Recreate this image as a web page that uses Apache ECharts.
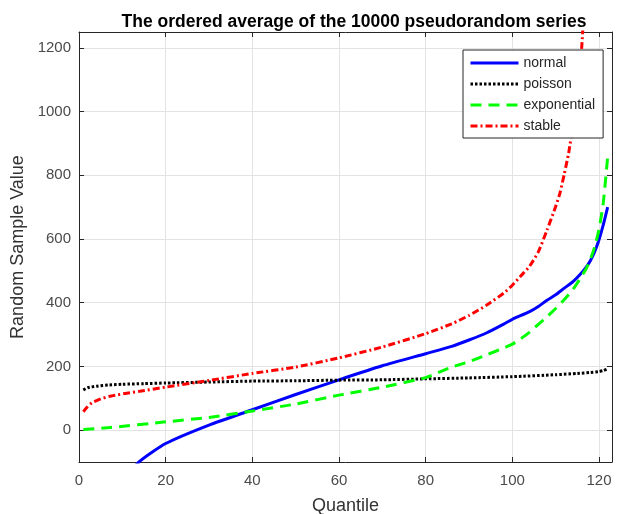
<!DOCTYPE html>
<html>
<head>
<meta charset="utf-8">
<script src="https://cdn.jsdelivr.net/npm/echarts@6/dist/echarts.min.js"></script>
<style>
  html, body { margin: 0; padding: 0; background: #fff; }
  #chart { width: 618px; height: 514px; }
</style>
</head>
<body>
<div id="chart"></div>
<script>
// values (x = quantile index)
const normalX = [1, 5, 10, 14, 20, 30, 40, 50, 60, 70, 80, 86, 90, 94, 98, 100, 104, 106, 108, 110, 112, 114, 116, 117, 118, 119, 120, 121, 122];
const normalY = [-390, -250, -160, -98, -42, 16, 64, 112, 158, 202, 240, 263, 283, 305, 333, 348, 372, 388, 408, 425, 446, 466, 494, 511, 532, 560, 598, 645, 700];

const poissonX = [1, 2, 4, 7, 10, 15, 20, 30, 40, 50, 60, 70, 80, 90, 100, 110, 115, 118, 120, 121, 122];
const poissonY = [126, 133, 138, 142, 144, 146, 148, 151, 154, 155, 157, 158, 161, 164, 168, 174, 178, 181, 184, 187, 192];

const expX = [1, 7, 20, 30, 40, 50, 60, 70, 80, 86, 90, 94, 98, 100, 102, 104, 106, 108, 110, 112, 114, 115, 116, 117, 118, 119, 120, 121, 122];
const expY = [2, 8, 26, 40, 60, 82, 110, 135, 165, 198, 215, 236, 258, 270, 288, 308, 332, 356, 382, 410, 442, 462, 484, 506, 536, 575, 630, 715, 858];

const stableX = [1, 2, 3, 5, 7, 9, 11, 14, 20, 30, 40, 50, 60, 70, 80, 86, 90, 94, 98, 100, 102, 104, 106, 108, 110, 111, 112, 113, 114, 115, 116, 117, 118];
const stableY = [58, 74, 86, 98, 106, 111, 116, 122, 135, 156, 178, 198, 227, 261, 303, 334, 360, 392, 430, 455, 485, 515, 560, 628, 702, 745, 805, 870, 960, 1060, 1200, 1450, 1800];

const xTicks = [0, 20, 40, 60, 80, 100, 120];

function pairs(xs, ys) {
  return xs.map(function (x, i) { return [x, ys[i]]; });
}

var chart = echarts.init(document.getElementById('chart'));

var axisColor = '#262626';
var labelColor = '#4a4a4a';
var font = 'Liberation Sans, Arial, sans-serif';

function lineSeries(name, color, type, xs, ys) {
  return {
    name: name,
    type: 'line',
    symbol: 'none',
    clip: true,
    smooth: 0.2,
    color: color,
    lineStyle: { color: color, width: 3, type: type },
    data: pairs(xs, ys)
  };
}

var option = {
  backgroundColor: '#fff',
  animation: false,
  title: {
    text: 'The ordered average of the 10000 pseudorandom series',
    left: 349,
    textAlign: 'center',
    top: 8,
    textStyle: { fontFamily: font, fontSize: 17.5, fontWeight: 'bold', color: '#000' }
  },
  legend: {
    orient: 'vertical',
    left: 463,
    top: 50,
    padding: [6, 8, 5, 6],
    itemWidth: 48,
    itemHeight: 14,
    itemGap: 7,
    backgroundColor: '#fff',
    borderColor: '#262626',
    borderWidth: 1,
    borderRadius: 0,
    lineStyle: { width: 3 },
    itemStyle: { color: 'rgba(0,0,0,0)', borderColor: 'rgba(0,0,0,0)', borderWidth: 0, opacity: 0 },
    textStyle: { fontFamily: font, fontSize: 14, color: '#262626' },
    data: ['normal', 'poisson', 'exponential', 'stable']
  },
  grid: { left: 79, right: 6, top: 32, bottom: 52, containLabel: false, outerBoundsMode: 'none' },
  xAxis: [{
    type: 'value',
    min: 0,
    max: 123,
    interval: 20,
    name: 'Quantile',
    nameLocation: 'middle',
    nameGap: 35,
    nameTextStyle: { fontFamily: font, fontSize: 18, color: '#333' },
    axisLine: { show: true, onZero: false, lineStyle: { color: axisColor, width: 1 } },
    axisTick: { inside: true, length: 5, lineStyle: { color: axisColor } },
    axisLabel: {
      fontFamily: font, fontSize: 15, color: labelColor, margin: 11,
      showMaxLabel: false,
      formatter: function (v) { return xTicks.indexOf(v) >= 0 ? String(v) : ''; }
    },
    splitLine: { show: true, lineStyle: { color: '#e3e3e3', width: 1 } }
  }, {
    type: 'value',
    position: 'top',
    min: 0,
    max: 123,
    interval: 20,
    axisLine: { show: true, onZero: false, lineStyle: { color: axisColor, width: 1 } },
    axisTick: { inside: true, length: 5, lineStyle: { color: axisColor } },
    axisLabel: { show: false },
    splitLine: { show: false }
  }],
  yAxis: [{
    type: 'value',
    min: -100,
    max: 1250,
    splitNumber: 7,
    name: 'Random Sample Value',
    nameLocation: 'middle',
    nameGap: 52,
    nameTextStyle: { fontFamily: font, fontSize: 18, color: '#333' },
    axisLine: { show: true, onZero: false, lineStyle: { color: axisColor, width: 1 } },
    axisTick: { inside: true, length: 5, lineStyle: { color: axisColor } },
    axisLabel: {
      fontFamily: font, fontSize: 15, color: labelColor, margin: 8,
      showMinLabel: false, showMaxLabel: false,
      formatter: function (v) { return String(v); }
    },
    splitLine: { show: true, lineStyle: { color: '#e3e3e3', width: 1 } }
  }, {
    type: 'value',
    position: 'right',
    min: -100,
    max: 1250,
    splitNumber: 7,
    axisLine: { show: true, onZero: false, lineStyle: { color: axisColor, width: 1 } },
    axisTick: { inside: true, length: 5, lineStyle: { color: axisColor } },
    axisLabel: { show: false },
    splitLine: { show: false }
  }],
  series: [
    lineSeries('normal', '#0000ff', 'solid', normalX, normalY),
    lineSeries('poisson', '#000000', [2.5, 2], poissonX, poissonY),
    lineSeries('exponential', '#00ff00', [11, 7], expX, expY),
    lineSeries('stable', '#ff0000', [7, 3, 2, 3], stableX, stableY)
  ]
};

chart.setOption(option);
</script>
</body>
</html>
